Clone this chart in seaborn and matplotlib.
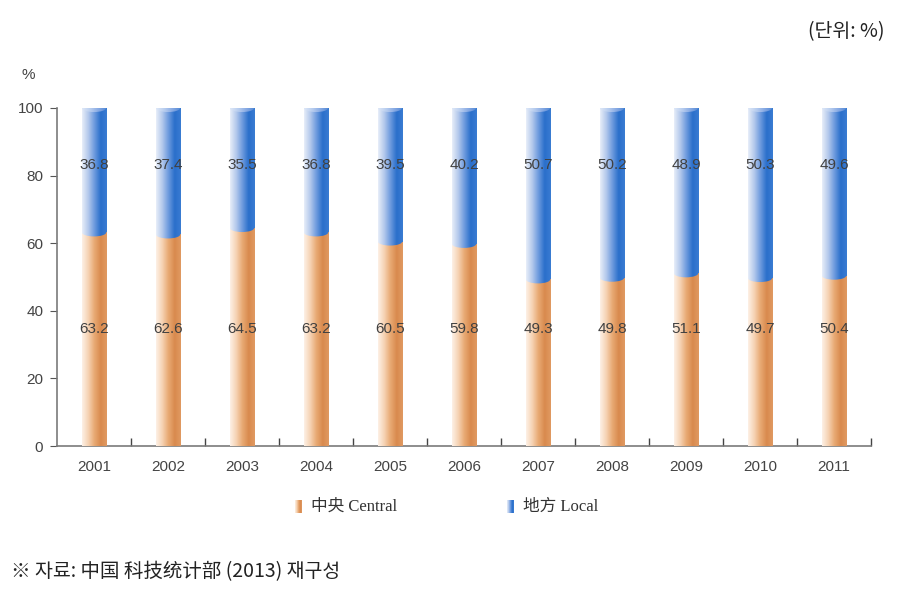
import matplotlib
matplotlib.use("Agg")
import matplotlib.pyplot as plt
import numpy as np
import pandas as pd
import seaborn as sns
from matplotlib.colors import LinearSegmentedColormap
from matplotlib.patches import Ellipse, Rectangle
from matplotlib.ticker import FixedLocator

years = ["2001", "2002", "2003", "2004", "2005", "2006", "2007", "2008", "2009", "2010", "2011"]
central = [63.2, 62.6, 64.5, 63.2, 60.5, 59.8, 49.3, 49.8, 51.1, 49.7, 50.4]
local = [36.8, 37.4, 35.5, 36.8, 39.5, 40.2, 50.7, 50.2, 48.9, 50.3, 49.6]
yticks = [0, 20, 40, 60, 80, 100]
legend_labels = ["中央 Central", "地方 Local"]

BAR_W = 0.33
CAP_H = 2.4

orange_cmap = LinearSegmentedColormap.from_list(
    "org", ["#fdf1e6", "#f6d3b4", "#e8a973", "#d98a4e", "#e09a62"])
blue_cmap = LinearSegmentedColormap.from_list(
    "blu", ["#e8eef9", "#b4c9ec", "#6d9ade", "#2a6fcb", "#3a7cd2"])
cap_cmap = LinearSegmentedColormap.from_list(
    "cap", ["#dfe8f7", "#b8cdef", "#86a9e3", "#4f86d4"])

df = pd.DataFrame({"year": years, "central": central,
                   "total": np.array(central) + np.array(local)})

fig = plt.figure(figsize=(9.01, 5.92), dpi=100)
ax = fig.add_axes([0.0633, 0.2466, 0.9034, 0.571])

sns.barplot(data=df, x="year", y="total", color="#2a6fcb", width=BAR_W, ax=ax)
sns.barplot(data=df, x="year", y="central", color="#e09a62", width=BAR_W, ax=ax)

grad = np.linspace(0, 1, 256).reshape(1, -1)
n = len(years)
blue_bars = ax.patches[:n]
orange_bars = ax.patches[n:2 * n]

for bb, ob, c in zip(blue_bars, orange_bars, central):
    x0 = bb.get_x()
    w = bb.get_width()
    xc = x0 + w / 2
    top = bb.get_height()
    bb.set_alpha(0)
    ob.set_alpha(0)

    # orange body
    im = ax.imshow(grad, cmap=orange_cmap, aspect="auto",
                   extent=[x0, x0 + w, 0, c], zorder=3)
    im.set_clip_path(Rectangle((x0, 0), w, c, transform=ax.transData))

    # blue body with curved lower edge
    im = ax.imshow(grad, cmap=blue_cmap, aspect="auto",
                   extent=[x0, x0 + w, c - CAP_H, top], zorder=4)
    im.set_clip_path(Rectangle((x0, c), w, top - c, transform=ax.transData))
    im2 = ax.imshow(grad, cmap=blue_cmap, aspect="auto",
                    extent=[x0, x0 + w, c - CAP_H, top], zorder=4)
    im2.set_clip_path(Ellipse((xc, c), w, CAP_H, transform=ax.transData))

    # top cap
    im3 = ax.imshow(grad, cmap=cap_cmap, aspect="auto",
                    extent=[x0, x0 + w, top - CAP_H, top + CAP_H], zorder=5)
    im3.set_clip_path(Ellipse((xc, top), w, CAP_H, transform=ax.transData))

for i, (c, l) in enumerate(zip(central, local)):
    ax.text(i, 34.5, f"{c:.1f}", ha="center", va="center", fontsize=11,
            color="#404040", family="Liberation Sans", zorder=7)
    ax.text(i, 83, f"{l:.1f}", ha="center", va="center", fontsize=11,
            color="#404040", family="Liberation Sans", zorder=7)

ax.set_xlim(-0.5, n - 0.5)
ax.set_ylim(0, 100)
ax.set_yticks(yticks)
ax.set_yticklabels([str(t) for t in yticks])
ax.set_xlabel("")
ax.set_ylabel("")
for s in ["top", "right"]:
    ax.spines[s].set_visible(False)
for s in ["left", "bottom"]:
    ax.spines[s].set_color("#7a7a7a")
    ax.spines[s].set_linewidth(1.2)
ax.tick_params(axis="y", direction="out", length=5, color="#555555",
               labelcolor="#444444", labelsize=11, pad=5)
ax.tick_params(axis="x", which="major", length=0, labelcolor="#444444",
               labelsize=11, pad=10)
ax.xaxis.set_minor_locator(FixedLocator(np.arange(0.5, n, 1.0)))
ax.tick_params(axis="x", which="minor", direction="in", length=6,
               color="#444444", width=1)
for lab in ax.get_xticklabels() + ax.get_yticklabels():
    lab.set_family("Liberation Sans")
ax.set_facecolor("white")

fig.text(0.031, 0.873, "%", fontsize=11, color="#444444",
         family="Liberation Sans", ha="center", va="center")
fig.text(0.982, 0.946, "(단위: %)", fontsize=14, color="#222222",
         family=["Noto Sans CJK KR", "DejaVu Sans"], ha="right", va="center")

# legend
leg_font = ["Liberation Serif", "Noto Sans CJK SC"]
legend_x = [0.327, 0.563]
legend_cmaps = [orange_cmap, blue_cmap]
for lx, lab, cm in zip(legend_x, legend_labels, legend_cmaps):
    lax = fig.add_axes([lx, 0.133, 0.007, 0.022])
    lax.imshow(grad, cmap=cm, aspect="auto")
    lax.axis("off")
    fig.text(lx + 0.018, 0.144, lab, fontsize=12, color="#333333",
             family=leg_font, ha="left", va="center")

fig.text(0.012, 0.034, "※ 자료: 中国 科技统计部 (2013) 재구성", fontsize=14,
         color="#222222", family=["Noto Sans CJK KR", "DejaVu Sans"],
         ha="left", va="center")

fig.savefig("out.png", dpi=100, facecolor="white")
